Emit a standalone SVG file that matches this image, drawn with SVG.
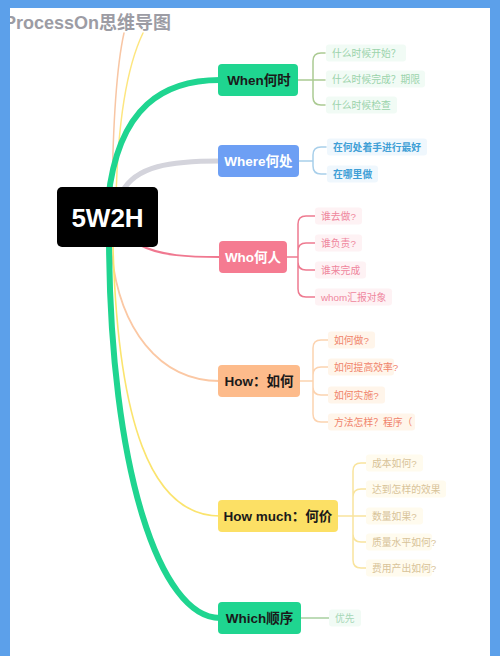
<svg xmlns="http://www.w3.org/2000/svg" width="500" height="656" viewBox="0 0 500 656">
<style>
text{font-family:"Liberation Sans","Noto Sans CJK SC",sans-serif}
.nt{font-size:13.5px;font-weight:bold;text-anchor:middle;dominant-baseline:central}
.lt{font-size:9.8px;dominant-baseline:central}
.c{fill:none;stroke-linecap:round}
.br{fill:none;stroke-width:1.5;stroke-linecap:round;stroke-linejoin:round}
.lb{rx:3;ry:3}
</style>
<rect x="0" y="0" width="500" height="656" fill="#ffffff"/>
<g id="connectors">
<path class="c" d="M112,200 C113,110 118,60 124,33" stroke="#f8c6a4" stroke-width="1.5"/>
<path class="c" d="M116,200 C118,110 130,60 143,33" stroke="#fde680" stroke-width="1.5"/>
<path class="c" d="M108,200 C118,105 165,80 220,80" stroke="#1fd590" stroke-width="6"/>
<path class="c" d="M122,192 C136,166 170,161 220,161" stroke="#d4d4dc" stroke-width="5"/>
<path class="c" d="M140,245 C160,256 190,257 220,257" stroke="#f07890" stroke-width="2"/>
<path class="c" d="M111,247 C118,330 160,381 220,381" stroke="#fbc8a4" stroke-width="1.8"/>
<path class="c" d="M113,247 C118,420 150,516 220,516" stroke="#fbe46e" stroke-width="1.6"/>
<path class="c" d="M109,240 C110,470 160,618 220,618" stroke="#1fd590" stroke-width="6"/>
<path class="br" stroke="#abca92" d="M298,80 H313 M313,80 V61 Q313,53 321,53 H325 M313,80 H325 M313,80 V97 Q313,105 321,105 H325"/>
<path class="br" stroke="#a8cfea" d="M299,161 H313 M313,161 V155 Q313,147 321,147 H326 M313,161 V166 Q313,174 321,174 H326"/>
<path class="br" stroke="#ee7a90" stroke-width="2.2" d="M287,257 H298 M298,257 V224 Q298,216 306,216 H315 M298,257 V251 Q298,243 306,243 H315 M298,257 V262 Q298,270 306,270 H315 M298,257 V289 Q298,297 306,297 H315"/>
<path class="br" stroke="#fcd3b0" d="M300,381 H313 M313,381 V348 Q313,340 321,340 H328 M313,381 V375 Q313,367 321,367 H328 M313,381 V387 Q313,395 321,395 H328 M313,381 V414 Q313,422 321,422 H328"/>
<path class="br" stroke="#f9e49d" d="M338,516 H353 M353,516 V471 Q353,463 361,463 H367 M353,516 V497 Q353,489 361,489 H367 M353,516 H367 M353,516 V534 Q353,542 361,542 H367 M353,516 V560 Q353,568 361,568 H367"/>
<path class="br" stroke="#a8d0a0" d="M301,618 H329"/>
</g>
<g id="root">
<rect x="57" y="187" width="101" height="60" rx="5" fill="#000000"/>
<text x="107.5" y="218" font-size="26" font-weight="bold" fill="#ffffff" text-anchor="middle" dominant-baseline="central">5W2H</text>
</g>
<g id="when">
<rect x="218" y="64" width="80" height="32" rx="4" fill="#1fd590"/>
<text class="nt" x="259" y="80" fill="#1a1a1a">When何时</text>
<g fill="#f1fbf5"><rect class="lb" x="326" y="44.5" width="80" height="17"/><rect class="lb" x="326" y="70.5" width="99" height="17"/><rect class="lb" x="326" y="96.5" width="71" height="17"/></g>
<g fill="#9bd3ab"><text class="lt" x="332" y="53">什么时候开始？</text><text class="lt" x="332" y="79">什么时候完成？期限</text><text class="lt" x="332" y="105">什么时候检查</text></g>
</g>
<g id="where">
<rect x="218" y="145" width="81" height="32" rx="4" fill="#6d9ff4"/>
<text class="nt" x="258.5" y="161" fill="#ffffff">Where何处</text>
<g fill="#eff7fd"><rect class="lb" x="327" y="138.5" width="100" height="17"/><rect class="lb" x="327" y="165.5" width="51" height="17"/></g>
<g fill="#3f9fd6" font-weight="bold"><text class="lt" x="333" y="147">在何处着手进行最好</text><text class="lt" x="333" y="174">在哪里做</text></g>
</g>
<g id="who">
<rect x="219" y="241" width="68" height="32" rx="4" fill="#f57b91"/>
<text class="nt" x="253" y="257" fill="#ffffff">Who何人</text>
<g fill="#fef2f4"><rect class="lb" x="315" y="207.5" width="47" height="17"/><rect class="lb" x="315" y="234.5" width="47" height="17"/><rect class="lb" x="315" y="261.5" width="51" height="17"/><rect class="lb" x="315" y="288.5" width="77" height="17"/></g>
<g fill="#ef869d"><text class="lt" x="321" y="216">谁去做?</text><text class="lt" x="321" y="243">谁负责?</text><text class="lt" x="321" y="270">谁来完成</text><text class="lt" x="321" y="297">whom汇报对象</text></g>
</g>
<g id="how">
<rect x="218" y="365" width="82" height="32" rx="4" fill="#fdbb8b"/>
<text class="nt" x="259" y="381" fill="#1a1a1a">How：如何</text>
<g fill="#fff5ea"><rect class="lb" x="328" y="331.5" width="47" height="17"/><rect class="lb" x="328" y="358.5" width="66" height="17"/><rect class="lb" x="328" y="386.5" width="57" height="17"/><rect class="lb" x="328" y="413.5" width="87" height="17"/></g>
<g fill="#f0846c"><text class="lt" x="334" y="340">如何做?</text><text class="lt" x="334" y="367">如何提高效率?</text><text class="lt" x="334" y="395">如何实施?</text><text class="lt" x="334" y="422">方法怎样？程序（</text></g>
</g>
<g id="howmuch">
<rect x="218" y="500" width="120" height="32" rx="4" fill="#fce065"/>
<text class="nt" x="278" y="516" fill="#1a1a1a">How much：何价</text>
<g fill="#fffbee"><rect class="lb" x="366" y="454.5" width="57" height="17"/><rect class="lb" x="366" y="480.5" width="80" height="17"/><rect class="lb" x="366" y="507.5" width="57" height="17"/><rect class="lb" x="366" y="533.5" width="66" height="17"/><rect class="lb" x="366" y="559.5" width="66" height="17"/></g>
<g fill="#d8c399"><text class="lt" x="372" y="463">成本如何?</text><text class="lt" x="372" y="489">达到怎样的效果</text><text class="lt" x="372" y="516">数量如果?</text><text class="lt" x="372" y="542">质量水平如何?</text><text class="lt" x="372" y="568">费用产出如何?</text></g>
</g>
<g id="which">
<rect x="218" y="602" width="83" height="32" rx="4" fill="#1fd590"/>
<text class="nt" x="259.5" y="618" fill="#1a1a1a">Which顺序</text>
<rect class="lb" x="329" y="609.5" width="32" height="17" fill="#f1fbf5"/>
<text class="lt" x="335" y="618" fill="#a6d7b7">优先</text>
</g>
<text x="4" y="29" font-size="18" font-weight="bold" fill="#9c9ca4">ProcessOn思维导图</text>
<g id="frame" fill="#5ca0ea">
<rect x="0" y="0" width="500" height="8"/>
<rect x="0" y="0" width="10" height="656"/>
<rect x="490" y="0" width="10" height="656"/>
</g>
</svg>
